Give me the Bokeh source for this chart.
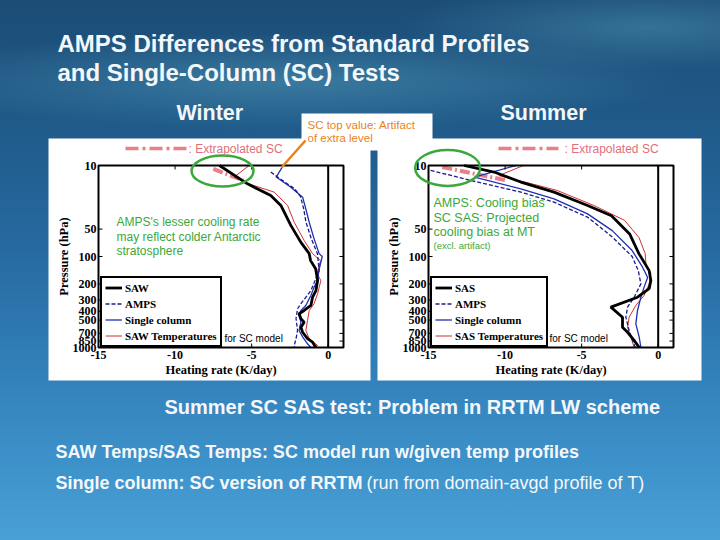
import numpy as np
from bokeh.plotting import figure
from bokeh.models import (Label, Arrow, BoxAnnotation, Legend, LegendItem, Range1d,
                          LinearScale, LogScale)
from bokeh.core.properties import value
from bokeh.embed import file_html
from bokeh.resources import INLINE

# ---------------- data ----------------
x_ticks = [-15, -10, -5, 0]
x_tick_labels = ["-15", "-10", "-5", "0"]
p_ticks = [10, 50, 100, 200, 300, 400, 500, 700, 850, 1000]
p_tick_labels = ["10", "50", "100", "200", "300", "400", "500", "700", "850", "1000"]

# Winter
w_saw_p = [10, 15.9, 21.4, 27.5, 45.5, 70, 93, 111, 136, 184, 237, 280, 345, 392, 426, 484, 527, 600, 680, 800, 875, 1000]
w_saw_x = [-7.1, -5.27, -3.75, -3.09, -2.44, -1.78, -1.24, -1.15, -0.82, -0.69, -0.8, -1.02, -1.13, -1.57, -1.9, -1.78, -1.57, -1.78, -1.67, -1.35, -1.02, -0.8]
w_amps_p = [11.8, 13.4, 18, 22, 30, 42, 64, 93, 143, 237, 330, 375, 480, 650, 800, 950, 1000]
w_amps_x = [-3.75, -3.3, -2.2, -1.8, -1.6, -1.45, -1.1, -0.7, -0.59, -1.13, -1.78, -2.0, -2.1, -2.0, -2.1, -2.22, -2.2]
w_sc_p = [10.4, 13.4, 17.3, 22.3, 30, 42, 64, 93, 100, 143, 184, 217, 268, 345, 392, 445, 527, 650, 765, 910, 1000]
w_sc_x = [-3.0, -3.4, -2.44, -1.67, -1.46, -1.24, -0.92, -0.59, -0.39, -0.61, -0.69, -0.92, -1.13, -1.46, -1.78, -1.9, -1.78, -1.9, -1.67, -1.35, -1.13]
w_temp_p = [10, 13.4, 15.9, 19.6, 27.5, 42, 66.7, 93, 111, 154, 184, 256, 330, 392, 505, 650, 800, 950, 1000]
w_temp_x = [-5.16, -6.15, -5.2, -3.53, -2.65, -2.22, -1.57, -1.02, -0.5, -0.72, -0.48, -0.69, -0.92, -1.24, -1.35, -1.46, -1.24, -0.69, -1.0]
w_ext_p = [10.9, 14.6]
w_ext_x = [-7.5, -5.55]

# Summer
s_sas_p = [10, 11.8, 15.2, 19.6, 27.5, 35.6, 57, 93, 143, 184, 226, 280, 360, 465, 600, 680, 835, 1000]
s_sas_x = [-12.68, -10.72, -8.97, -6.8, -4.61, -3.05, -1.85, -1.26, -0.59, -0.48, -0.59, -1.35, -3.09, -2.33, -2.33, -2.0, -1.57, -1.24]
s_amps_p = [11.3, 14.6, 19.6, 25.3, 37, 61, 100, 143, 200, 280, 360, 465, 650, 835, 1000]
s_amps_x = [-14.86, -12.24, -8.97, -6.8, -4.61, -3.0, -1.7, -1.3, -1.13, -1.57, -2.0, -2.11, -1.9, -1.67, -1.5]
s_sc_p = [10, 13.4, 18.1, 23.3, 34, 52, 86, 131, 170, 217, 280, 392, 550, 770, 1000]
s_sc_x = [-9.3, -12.0, -8.97, -6.8, -4.61, -3.0, -1.7, -1.02, -0.69, -0.92, -1.13, -1.35, -1.46, -1.24, -1.13]
s_temp_p = [10, 12.9, 15.2, 18.8, 27.5, 40, 62, 93, 120, 154, 200, 268, 345, 465, 600, 770, 1000]
s_temp_x = [-8.8, -10.4, -8.7, -6.6, -4.2, -2.2, -1.25, -0.85, -0.8, -0.48, -0.59, -0.92, -1.46, -1.9, -2.0, -1.78, -1.57]
s_ext_p = [10.4, 14.6]
s_ext_x = [-14.1, -9.9]

# ---------------- styles ----------------
SANS = "Liberation Sans"
SERIF = "Liberation Serif"
NAVY = "#1c1c8a"
BLUE = "#1f2fb4"
RED = "#cc3333"
PINK = "#e8808a"
PINK_T = "#e0707a"
GREEN = "#3aa83a"
ORANGE = "#e8821e"
WHITE = "#f4f7fa"

GRAD = ("radial-gradient(ellipse 55% 9% at 40% 15%, rgba(110,190,215,0.35), rgba(110,190,215,0) 100%), "
        "radial-gradient(ellipse 35% 8% at 90% 5%, rgba(110,190,215,0.30), rgba(110,190,215,0) 100%), "
        "linear-gradient(180deg, #1b4d77 0%, #1f5886 20%, #2669a0 45%, #3381ba 70%, #3f94cc 88%, #49a0d6 100%)")

# whole slide: one canvas in slide pixel units (y grows downward)
p = figure(width=720, height=540, x_range=Range1d(0, 720), y_range=Range1d(540, 0),
           x_axis_type=None, y_axis_type=None, output_backend="svg",
           toolbar_location=None, min_border=0, styles={"background": GRAD})
p.outline_line_color = None
p.background_fill_alpha = 0
p.border_fill_alpha = 0
p.grid.visible = False


def txt(x, y, text, size, color, style="normal", font=SANS, align="left", angle=0.0):
    p.add_layout(Label(x=x, y=y, text=text, text_font=font, text_font_size=size,
                       text_color=color, text_font_style=style, text_baseline="middle",
                       text_align=align, angle=angle))


def box(l, r, t, b):
    p.add_layout(BoxAnnotation(left=l, right=r, top=t, bottom=b, fill_color="white",
                               fill_alpha=1, line_color=None, level="underlay"))


# white panels and the note box
box(48, 370, 138, 380)
box(377, 701, 138, 380)
box(301, 432, 113, 150)


def panel(fx0, fx1, saw, amps, sc, temp, ext, names, leg_x):
    sub = p.subplot(x_source=Range1d(-15, 1), y_source=Range1d(1000, 10),
                    x_scale=LinearScale(), y_scale=LogScale(),
                    x_target=Range1d(fx0, fx1), y_target=Range1d(347, 165))
    sub.line(ext[0], ext[1], line_color=PINK, line_width=4, line_dash="10 3 2 3")
    r_temp = sub.line(temp[0], temp[1], line_color=RED, line_width=1)
    r_sc = sub.line(sc[0], sc[1], line_color=BLUE, line_width=1.3)
    r_amps = sub.line(amps[0], amps[1], line_color=NAVY, line_width=1.3, line_dash="4 2")
    r_saw = sub.line(saw[0], saw[1], line_color="black", line_width=2.8)
    # axes box, zero line, ticks and tick labels
    sub.quad(left=[x_ticks[0]], right=[1], top=[p_ticks[0]], bottom=[p_ticks[-1]],
             fill_alpha=0, line_color="black", line_width=2)
    sub.segment(x0=[0], y0=[p_ticks[-1]], x1=[0], y1=[p_ticks[0]], line_color="black", line_width=2)
    nx, ny = len(x_ticks), len(p_ticks)
    sub.ray(x=x_ticks, y=[p_ticks[-1]] * nx, length=4, length_units="screen", angle=np.pi / 2, line_color="black")
    sub.ray(x=x_ticks, y=[p_ticks[0]] * nx, length=4, length_units="screen", angle=-np.pi / 2, line_color="black")
    sub.ray(x=[x_ticks[0]] * ny, y=p_ticks, length=4, length_units="screen", angle=0, line_color="black")
    sub.ray(x=[1] * ny, y=p_ticks, length=4, length_units="screen", angle=np.pi, line_color="black")
    sub.text(x=x_ticks, y=[p_ticks[-1]] * nx, text=x_tick_labels, y_offset=3,
             text_align="center", text_baseline="top", text_font=value(SERIF),
             text_font_style="bold", text_font_size="12px", text_color="black")
    sub.text(x=[x_ticks[0]] * ny, y=p_ticks, text=p_tick_labels, x_offset=-2,
             text_align="right", text_baseline="middle", text_font=value(SERIF),
             text_font_style="bold", text_font_size="12px", text_color="black")
    leg = Legend(items=[LegendItem(label=names[0], renderers=[r_saw]),
                        LegendItem(label=names[1], renderers=[r_amps]),
                        LegendItem(label=names[2], renderers=[r_sc]),
                        LegendItem(label=names[3], renderers=[r_temp])],
                 location=(leg_x, 540 - 347), margin=0, padding=3, spacing=3,
                 label_height=13, glyph_height=13, glyph_width=17, label_standoff=3,
                 label_text_font=SERIF, label_text_font_style="bold",
                 label_text_font_size="11px", label_text_color="black",
                 border_line_color="black", border_line_width=2, border_line_alpha=1,
                 background_fill_color="white", background_fill_alpha=1)
    p.add_layout(leg)
    cx = (fx0 + fx1) / 2
    txt(cx, 369, "Heating rate (K/day)", "12.5px", "black", "bold", SERIF, "center")
    txt(fx0 - 35, 256, "Pressure (hPa)", "12.5px", "black", "bold", SERIF, "center", np.pi / 2)
    return sub


win = panel(98, 343, (w_saw_x, w_saw_p), (w_amps_x, w_amps_p), (w_sc_x, w_sc_p),
            (w_temp_x, w_temp_p), (w_ext_x, w_ext_p),
            ["SAW", "AMPS", "Single column", "SAW Temperatures"], 100)
sm = panel(428, 673, (s_sas_x, s_sas_p), (s_amps_x, s_amps_p), (s_sc_x, s_sc_p),
           (s_temp_x, s_temp_p), (s_ext_x, s_ext_p),
           ["SAS", "AMPS", "Single column", "SAS Temperatures"], 430)

# green highlight ellipses (centred on the artefact region)
win.ellipse(x=[-6.9], y=[11.5], width=62, height=31, width_units="screen", height_units="screen",
            fill_alpha=0, line_color=GREEN, line_width=2.5)
sm.ellipse(x=[-13.75], y=[10.65], width=65, height=36, width_units="screen", height_units="screen",
           fill_alpha=0, line_color=GREEN, line_width=2.5)

# every sub-coordinate mapping uses a log pressure scale
for r in p.renderers:
    cm = getattr(r, "coordinates", None)
    if cm is not None:
        cm.x_scale = LinearScale()
        cm.y_scale = LogScale()

# extrapolated-SC keys
p.add_layout(Arrow(end=None, x_start=125, y_start=148, x_end=187, y_end=148,
                   line_color=PINK, line_width=3.5, line_dash="13 4 3 4"))
txt(188, 148, ": Extrapolated SC", "12px", PINK_T)
p.add_layout(Arrow(end=None, x_start=498, y_start=148, x_end=558, y_end=148,
                   line_color=PINK, line_width=3.5, line_dash="13 4 3 4"))
txt(564, 148, ": Extrapolated SC", "12px", PINK_T)

# orange pointer from the note to the SC top value
p.add_layout(Arrow(end=None, x_start=305, y_start=140, x_end=281, y_end=167,
                   line_color=ORANGE, line_width=2.5))

# panel annotations
txt(116, 221, "AMPS's lesser cooling rate", "12px", GREEN)
txt(116, 236, "may reflect colder Antarctic", "12px", GREEN)
txt(116, 250, "stratosphere", "12px", GREEN)
txt(224, 338, "for SC model", "10px", "black")
txt(433, 202, "AMPS: Cooling bias", "12.5px", GREEN)
txt(433, 217, "SC SAS: Projected", "12.5px", GREEN)
txt(433, 231, "cooling bias at MT", "12.5px", GREEN)
txt(433, 245, "(excl. artifact)", "9.5px", GREEN)
txt(549, 338, "for SC model", "10px", "black")

# slide texts
txt(57, 43, "AMPS Differences from Standard Profiles", "24px", WHITE, "bold")
txt(57, 72, "and Single-Column (SC) Tests", "24px", WHITE, "bold")
txt(176, 112, "Winter", "21.5px", WHITE, "bold")
txt(500, 112, "Summer", "21.5px", WHITE, "bold")
txt(307, 124, "SC top value: Artifact", "11.5px", ORANGE)
txt(307, 137, "of extra level", "11.5px", ORANGE)
txt(164, 406, "Summer SC SAS test: Problem in RRTM LW scheme", "20px", WHITE, "bold")
txt(55, 451, "SAW Temps/SAS Temps: SC model run w/given temp profiles", "18px", WHITE, "bold")
txt(55, 482, "Single column: SC version of RRTM", "18px", WHITE, "bold")
txt(366, 482, "(run from domain-avgd profile of T)", "18px", WHITE)

open("out.html", "w").write(file_html(p, INLINE))
